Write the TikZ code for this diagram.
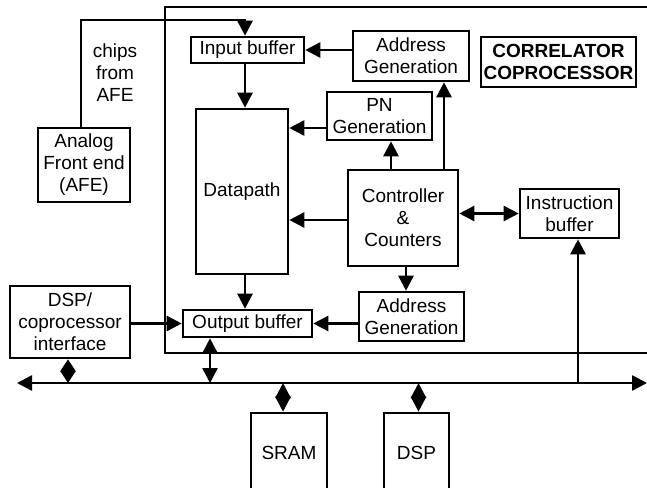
\documentclass[tikz,border=0pt]{standalone}
\usepackage{fontspec}
\setmainfont{Liberation Sans}
\usetikzlibrary{arrows.meta}
\begin{document}
\begin{tikzpicture}[x=0.5pt,y=-0.5pt, line width=1.3pt, line join=miter,
		font=\fontsize{9.5}{11}\selectfont,
		>={Triangle[length=7.5pt,width=7.5pt]},
		khoi/.style={draw, align=center, inner sep=0pt},
		thoi/.style={{Triangle[length=#1,width=7.5pt]}-{Triangle[length=#1,width=7.5pt]}}]
		\useasboundingbox (0,0) rectangle (647,487);
		% khung coprocessor
		\draw (647,7)--(165,7)--(165,353)--(647,353);
		% cac khoi
		\node[khoi, minimum width=56.5pt, minimum height=13pt] (inbuf) at (247.5,50) {Input buffer};
		\node[khoi, minimum width=46pt, minimum height=82.5pt] (dp) at (242,191.5) {Datapath};
		\node[khoi, minimum width=58pt, minimum height=25pt] (addrA) at (411,56) {Address\\Generation};
		\node[khoi, minimum width=77.5pt, minimum height=25pt, font=\fontsize{9.5}{11}\selectfont\bfseries] (corr) at (558.5,62) {CORRELATOR\\COPROCESSOR};
		\node[khoi, minimum width=52.5pt, minimum height=24pt] (pn) at (379.5,116) {PN\\Generation};
		\node[khoi, minimum width=55pt, minimum height=48pt] (ctrl) at (403,218) {Controller\\\&\\Counters};
		\node[khoi, minimum width=49.5pt, minimum height=24.5pt] (instr) at (569.5,213.5) {Instruction\\buffer};
		\node[khoi, minimum width=52.5pt, minimum height=24.5pt] (addrB) at (411.5,316.5) {Address\\Generation};
		\node[khoi, minimum width=64.5pt, minimum height=13.5pt] (outbuf) at (247.5,323.5) {Output buffer};
		\node[khoi, minimum width=60pt, minimum height=36pt] (dspif) at (70,322) {DSP/\\coprocessor\\interface};
		\node[khoi, minimum width=46pt, minimum height=37pt] (afe) at (84,165) {Analog\\Front end\\(AFE)};
		\node[khoi, minimum width=38pt, minimum height=40pt] (sram) at (289,453) {SRAM};
		\node[khoi, minimum width=32.5pt, minimum height=40pt] (dsp) at (416.5,453) {DSP};
		\node[align=center] (chips) at (115,73) {chips\\from\\AFE};
		% bus
		\coordinate (busL) at (17,383);
		\coordinate (busR) at (647,383);
		\draw[<->] (busL)--(busR);
		% ket noi
		\draw[->] ([xshift=-1.5pt]afe.north) |- (245,20) -- ([xshift=-1.25pt]inbuf.north);
		\draw[->] ([xshift=-1.25pt]inbuf.south)--([xshift=-1.25pt]inbuf.south |- dp.north);
		\draw[->] (addrA.west |- inbuf.east)--(inbuf.east);
		\draw[->] ([yshift=-6pt]pn.west)--([yshift=-6pt]pn.west -| dp.east);
		\draw[->] ([yshift=-1pt]ctrl.west)--([yshift=-1pt]ctrl.west -| dp.east);
		\draw[->] ([xshift=-6pt]ctrl.north)--([xshift=-6pt]ctrl.north |- pn.south);
		\draw[->] ([xshift=20.5pt]ctrl.north)--([xshift=20.5pt]ctrl.north |- addrA.south);
		\draw[<->] (instr.west -| ctrl.east)--(instr.west);
		\draw[->] ([xshift=1.5pt]ctrl.south)--([xshift=1.5pt]ctrl.south |- addrB.north);
		\draw[->] (addrB.west |- outbuf.east)--(outbuf.east);
		\draw[->] ([xshift=-1.25pt]dp.south -| inbuf.south)--([xshift=-1.25pt]outbuf.north);
		\draw[->] (dspif.east |- outbuf.west)--(outbuf.west);
		\draw[<->] ([xshift=-18.75pt]outbuf.south)--([xshift=-18.75pt]outbuf.south |- busL);
		\draw[->] ([xshift=4.25pt]instr.south |- busR)--([xshift=4.25pt]instr.south);
		\draw[thoi=6pt] ([xshift=-1pt]dspif.south)--([xshift=-1pt]dspif.south |- busL);
		\draw[thoi=7.5pt] ([xshift=-3pt]sram.north |- busL)--([xshift=-3pt]sram.north);
		\draw[thoi=7.5pt] ([xshift=1pt]dsp.north |- busL)--([xshift=1pt]dsp.north);
\end{tikzpicture}
\end{document}
